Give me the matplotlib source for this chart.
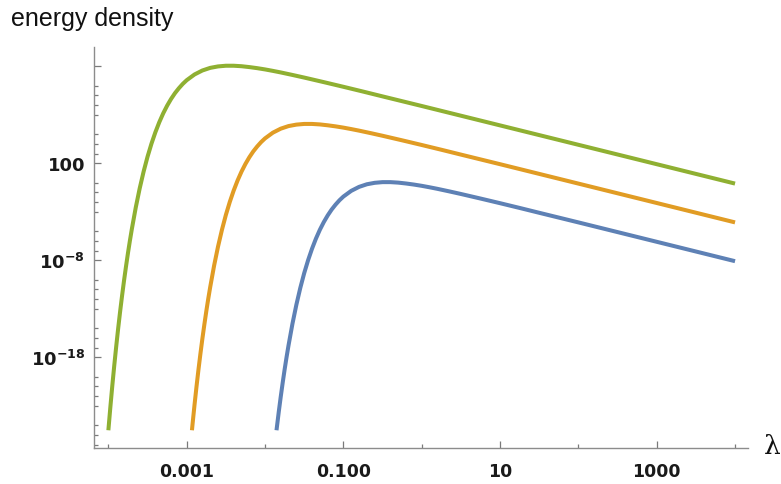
import numpy as np
import matplotlib
matplotlib.use("Agg")
import matplotlib.pyplot as plt
from matplotlib.ticker import NullFormatter

plt.rcParams['mathtext.fontset'] = 'dejavusans'
plt.rcParams['mathtext.default'] = 'bf'

# curves, stored as log10(lambda) and log10(energy density)
green_loglam = [-4.000, -3.975, -3.950, -3.925, -3.900, -3.875, -3.850, -3.825, -3.800, -3.775,
                -3.750, -3.725, -3.700, -3.650, -3.600, -3.550, -3.500, -3.450, -3.400, -3.350,
                -3.300, -3.250, -3.200, -3.150, -3.100, -3.050, -3.000, -2.900, -2.800, -2.700,
                -2.600, -2.500, -2.400, -2.300, -2.200, -2.100, -2.000, -1.900, -1.800, -1.650,
                -1.500, -1.250, -1.000, -0.750, -0.500, 0.000, 0.500, 1.000, 2.000, 3.000, 4.000]
green_logu = [-25.52, -23.17, -20.95, -18.86, -16.89, -15.03, -13.28, -11.64, -10.09, -8.64,
              -7.26, -5.97, -4.76, -2.54, -0.58, 1.15, 2.68, 4.02, 5.20, 6.24,
              7.15, 7.94, 8.63, 9.23, 9.74, 10.19, 10.57, 11.16, 11.57, 11.84,
              11.99, 12.06, 12.06, 12.01, 11.92, 11.81, 11.68, 11.53, 11.37, 11.11,
              10.84, 10.37, 9.89, 9.40, 8.90, 7.91, 6.91, 5.91, 3.91, 1.91, -0.09]

orange_loglam = [-2.933, -2.925, -2.900, -2.875, -2.850, -2.825, -2.800, -2.775, -2.750, -2.725,
                 -2.700, -2.650, -2.600, -2.550, -2.500, -2.450, -2.400, -2.350, -2.300, -2.250,
                 -2.200, -2.150, -2.100, -2.050, -2.000, -1.900, -1.800, -1.700, -1.600, -1.500,
                 -1.400, -1.300, -1.200, -1.100, -1.000, -0.900, -0.800, -0.650, -0.500, -0.250,
                 0.000, 0.250, 0.500, 1.000, 1.500, 2.000, 3.000, 4.000]
orange_logu = [-25.52, -24.86, -22.89, -21.03, -19.28, -17.64, -16.09, -14.64, -13.26, -11.97,
               -10.76, -8.54, -6.58, -4.85, -3.32, -1.98, -0.80, 0.24, 1.15, 1.94,
               2.63, 3.23, 3.74, 4.19, 4.57, 5.16, 5.57, 5.84, 5.99, 6.06,
               6.06, 6.01, 5.92, 5.81, 5.68, 5.53, 5.37, 5.11, 4.84, 4.37,
               3.89, 3.40, 2.90, 1.91, 0.91, -0.09, -2.09, -4.09]

blue_loglam = [-1.8535, -1.850, -1.825, -1.800, -1.775, -1.750, -1.725, -1.700, -1.650, -1.600,
               -1.550, -1.500, -1.450, -1.400, -1.350, -1.300, -1.250, -1.200, -1.150, -1.100,
               -1.050, -1.000, -0.900, -0.800, -0.700, -0.600, -0.500, -0.400, -0.300, -0.200,
               -0.100, 0.000, 0.100, 0.200, 0.350, 0.500, 0.750, 1.000, 1.250, 1.500,
               2.000, 2.500, 3.000, 4.000]
blue_logu = [-25.52, -25.28, -23.64, -22.09, -20.64, -19.26, -17.97, -16.76, -14.54, -12.58,
             -10.85, -9.32, -7.98, -6.80, -5.76, -4.85, -4.06, -3.37, -2.77, -2.26,
             -1.81, -1.43, -0.84, -0.43, -0.16, -0.01, 0.06, 0.06, 0.01, -0.08,
             -0.19, -0.32, -0.47, -0.63, -0.89, -1.16, -1.63, -2.11, -2.60, -3.10,
             -4.09, -5.09, -6.09, -8.09]

xtick_major = [1e-3, 1e-1, 1e1, 1e3]
xtick_labels = ['0.001', '0.100', '10', '1000']
xtick_minor = [1e-4, 1e-2, 1e0, 1e2, 1e4]
ytick_major = [1e12, 1e2, 1e-8, 1e-18]
ytick_labels = ['', '100', r'$10^{-8}$', r'$10^{-18}$']
ytick_minor_exp = [10, 9, 8, 7, 5, 4, 3, 0, -1, -2, -3, -5, -6, -7,
                   -10, -11, -12, -13, -15, -16, -17, -20, -21, -22, -23, -25, -26, -27]

fig = plt.figure(figsize=(7.81, 4.85), dpi=100)
ax = fig.add_axes([0.1207, 0.0742, 0.8367, 0.8262])

lw = 2.9
ax.plot(10 ** np.array(blue_loglam), 10 ** np.array(blue_logu), color='#5E81B5', lw=lw, solid_capstyle='butt')
ax.plot(10 ** np.array(orange_loglam), 10 ** np.array(orange_logu), color='#E19C24', lw=lw, solid_capstyle='butt')
ax.plot(10 ** np.array(green_loglam), 10 ** np.array(green_logu), color='#8FB032', lw=lw, solid_capstyle='butt')

ax.set_xscale('log')
ax.set_yscale('log')
ax.set_xlim(10 ** -4.18, 10 ** 4.162)
ax.set_ylim(10 ** -27.35, 10 ** 13.96)

for s in ['top', 'right']:
    ax.spines[s].set_visible(False)
for s in ['left', 'bottom']:
    ax.spines[s].set_color('#8c8c8c')
    ax.spines[s].set_linewidth(1.0)

ax.set_xticks(xtick_major, xtick_labels)
ax.set_xticks(xtick_minor, minor=True)
ax.set_yticks(ytick_major, ytick_labels)
ax.set_yticks([10.0 ** e for e in ytick_minor_exp], minor=True)
ax.xaxis.set_minor_formatter(NullFormatter())
ax.yaxis.set_minor_formatter(NullFormatter())

ax.tick_params(which='both', direction='in', color='#7a7a7a', width=0.9)
ax.tick_params(which='major', length=5)
ax.tick_params(which='minor', length=3)
ax.tick_params(axis='x', which='major', pad=10, labelsize=12.5, labelcolor='#1a1a1a')
ax.tick_params(axis='y', which='major', pad=6.5, labelsize=13, labelcolor='#1a1a1a')
for t in ax.get_xticklabels() + ax.get_yticklabels():
    t.set_fontweight('bold')

fig.text(0.014, 0.946, 'energy density', fontsize=18, family='Liberation Sans',
         color='#111111', va='baseline', ha='left')
fig.text(0.989, 0.079, 'λ', fontsize=19, family='DejaVu Serif', color='#111111',
         va='center', ha='center')

fig.savefig('out.png', dpi=100)
